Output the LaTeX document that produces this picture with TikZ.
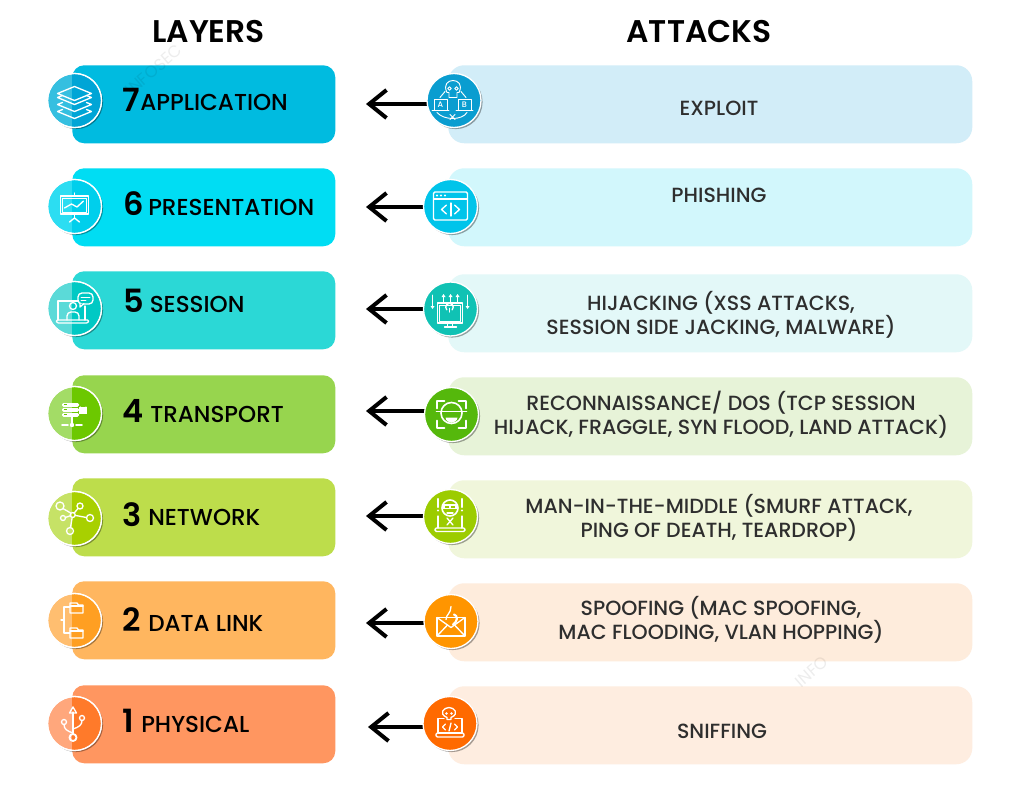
\documentclass[tikz,border=0pt]{standalone}
\usepackage{fontspec}
\setmainfont{Poppins}
\newfontfamily\medf{Poppins Medium}
\newfontfamily\semif{Poppins SemiBold}
\usetikzlibrary{arrows.meta,shadows}
\definecolor{la}{HTML}{00BBE0}\definecolor{lb}{HTML}{00DDF3}\definecolor{lc}{HTML}{2BD8D6}
\definecolor{ld}{HTML}{97D54E}\definecolor{le}{HTML}{BDDD4B}\definecolor{lf}{HTML}{FFB65F}\definecolor{lg}{HTML}{FF9660}
\definecolor{ca}{HTML}{00A5D6}\definecolor{cb}{HTML}{00CFEC}\definecolor{cc}{HTML}{00C9C4}
\definecolor{cd}{HTML}{6CC800}\definecolor{ce}{HTML}{A8D000}\definecolor{cf}{HTML}{FF9F22}\definecolor{cg}{HTML}{FF7A2A}
\definecolor{ta}{HTML}{35BFE0}\definecolor{tb}{HTML}{2CDDF2}\definecolor{tc}{HTML}{5BDAD8}
\definecolor{td}{HTML}{A3DC66}\definecolor{te}{HTML}{C6E266}\definecolor{tf}{HTML}{FFBE70}\definecolor{tg}{HTML}{FFA77C}
\definecolor{ra}{HTML}{D2EDF8}\definecolor{rb}{HTML}{D2F7FC}\definecolor{rc}{HTML}{E3F8F8}
\definecolor{rd}{HTML}{E7F3D8}\definecolor{re}{HTML}{F0F6DB}\definecolor{rf}{HTML}{FEECDC}\definecolor{rg}{HTML}{FEEDE0}
\definecolor{ia}{HTML}{0A9DD0}\definecolor{ib}{HTML}{00C4EA}\definecolor{ic}{HTML}{10C2B4}
\definecolor{id}{HTML}{55B80C}\definecolor{ie}{HTML}{9CCC00}\definecolor{if}{HTML}{FF9500}\definecolor{ig}{HTML}{FF6A00}
\definecolor{txt}{HTML}{2E2E2E}
\tikzset{
 x=0.75pt,y=-0.75pt,
 layerbox/.style={rectangle,rounded corners=9pt,minimum width=197.25pt,minimum height=58.5pt,inner sep=0pt,anchor=north west},
 attackbox/.style={rectangle,rounded corners=12pt,minimum width=393pt,minimum height=58.5pt,inner sep=0pt,anchor=north west},
 disc/.style={circle,minimum size=40.5pt,inner sep=0pt,draw=white,line width=1pt,drop shadow={shadow xshift=1.2pt,shadow yshift=-1.2pt,opacity=.35,fill=black}},
 layertxt/.style={anchor=west,inner sep=0pt,font=\medf\fontsize{17.3}{17.3}\selectfont,text=black},
 numtxt/.style={anchor=west,inner sep=0pt,font=\semif\fontsize{24}{24}\selectfont,text=black},
 attacktxt/.style={align=center,inner sep=0pt,font=\medf\fontsize{15.4}{18}\selectfont,text=txt},
 headtxt/.style={inner sep=0pt,font=\semif\fontsize{23.5}{23.5}\selectfont,text=black},
 back/.style={-{Straight Barb[length=13pt,width=21pt,line width=3pt]},line width=2.7pt,black},
 icn/.style={draw=white,line width=1pt,line cap=round,line join=round,fill=none},
 wmark/.style={inner sep=0pt,anchor=east,font=\fontsize{12.5}{12.5}\selectfont,text=black,text opacity=.07,rotate=41},
}
\newcommand{\leftdisc}[4]{%
 \node[disc,fill=#3] (#1) at (74.5,#2) {};
 \begin{scope}
  \clip (74.5,#2) circle (26.6);
  \fill[#4] (72,#2-30) rectangle (110,#2+30);
 \end{scope}
 \draw[white,line width=1pt] (74.5,#2) circle (27);
}
\newcommand{\icLayers}[2]{\begin{scope}[shift={(#1,#2)},icn]
 \draw (-17,-7) -- (0,-14) -- (17,-7) -- (0,0) -- cycle;
 \foreach \d in {0,7,14}{\draw (-12,\d-5) -- (-17,\d-7+4) -- (0,\d+4) -- (17,\d-7+4) -- (12,\d-5);}
\end{scope}}
\newcommand{\icBoard}[2]{\begin{scope}[shift={(#1,#2)},icn]
 \draw (-14,-10) rectangle (14,8);
 \draw[line width=.6pt] (-12,-8) rectangle (12,6);
 \draw (-10,2) -- (-3,-2) -- (2.5,1) -- (9,-5);
 \draw (0,-10) -- (0,-13); \draw (0,8) -- (0,12); \draw (-5,16) -- (0,12) -- (5,16);
\end{scope}}
\newcommand{\icSession}[2]{\begin{scope}[shift={(#1,#2)},icn]
 \draw (-15,11) -- (-15,-8) -- (5,-8); \draw (12,-3) -- (12,11);
 \draw[rounded corners=1pt] (-17,11) -- (16,11) -- (15,14) -- (-16,14) -- cycle;
 \draw (0,-3) circle (3.5);
 \draw[rounded corners=3pt] (-6,11) -- (-6,3) -- (6,3) -- (6,11);
 \draw[rounded corners=3pt,fill=cc] (5,-16) rectangle (20,-5);
 \draw[fill=cc] (7,-5.5) -- (7,-2) -- (11,-5.5);
 \draw[line width=.7pt] (8,-12) -- (17,-12); \draw[line width=.7pt] (8,-9) -- (13,-9);
\end{scope}}
\newcommand{\icServer}[2]{\begin{scope}[shift={(#1,#2)},icn,line width=.5pt]
 \foreach \d in {-9,-4,1}{\fill[white,rounded corners=1pt] (-10,\d) rectangle (7,\d+3.8);\fill[cd] (-8.5,\d+1.2) rectangle (-5,\d+2.4);}
 \draw[line width=.9pt] (8.5,-5) arc (180:0:2.7);
 \fill[white] (7,-5) rectangle (15,2);
 \draw[line width=1.2pt] (0,5) -- (0,13); \draw[line width=1.2pt] (-10,13) -- (-4,13); \draw[line width=1.2pt] (4,13) -- (10,13);
 \fill[white] (0,13) circle (2.2);
\end{scope}}
\newcommand{\icNet}[2]{\begin{scope}[shift={(#1,#2)},icn]
 \draw (0,0) circle (2.5); \draw (-12.7,-9) circle (4); \draw (7.3,-9) circle (3); \draw (17.3,3) circle (3.5);
 \draw (-9.7,3) circle (2.5); \draw (-2.7,16) circle (3.5);
 \draw (-2,-2) -- (-9.8,-6.5); \draw (1.5,-2) -- (5.5,-6.7); \draw (2.5,.4) -- (13.8,2.5);
 \draw (-2.5,.8) -- (-7.2,2.4); \draw (-.5,2.5) -- (-2.2,12.5);
\end{scope}}
\newcommand{\icFolders}[2]{\begin{scope}[shift={(#1,#2)},icn]
 \draw (-4,-13) -- (-10,-13) -- (-10,13) -- (-4,13); \draw (-10,0) -- (-13,0);
 \foreach \d in {-12,13}{\draw (-4,\d-5) -- (3,\d-5) -- (4.5,\d-3) -- (9,\d-3) -- (9,\d+5) -- (-4,\d+5) -- cycle; \draw (-4,\d-2) -- (9,\d-2);}
\end{scope}}
\newcommand{\icUsb}[2]{\begin{scope}[shift={(#1,#2)},icn]
 \draw (0,12) -- (0,-10); \draw (-3.5,-9) -- (0,-15) -- (3.5,-9) -- cycle;
 \draw[line width=1.4pt] (0,15.5) circle (3.5);
 \draw (0,11) .. controls (-6,9) and (-9,7) .. (-9,2.5); \draw (-9,0) circle (2.5);
 \draw (0,7) .. controls (6,5) and (9,3) .. (9,-1.5); \draw (9,-4) circle (2.5);
\end{scope}}
\newcommand{\icSkull}[2]{\begin{scope}[shift={(#1,#2)},icn,line width=.7pt]
 \draw (-6,-8) .. controls (-14,-24) and (14,-24) .. (6,-8) -- (4,-8) -- (4,-3) -- (-4,-3) -- (-4,-8) -- cycle;
 \draw (-3.5,-12) circle (1.8); \draw (3.5,-12) circle (1.8);
 \draw (-19,-1.5) rectangle (-6,9.5); \draw (5,-1.5) rectangle (18,9.5);
 \draw (-21,10) -- (-4,10); \draw (3,10) -- (20,10);
 \node[inner sep=0pt,text=white,font=\medf\fontsize{6}{6}\selectfont] (sa) at (-12.5,4) {A};
 \node[inner sep=0pt,text=white,font=\medf\fontsize{6}{6}\selectfont] (sb) at (11.5,4) {B};
 \draw (-16,12) .. controls (-9,20) and (9,20) .. (14,12);
 \draw (-3,14) -- (2,19); \draw (2,14) -- (-3,19);
 \draw (-13,-3) -- (-8,-9); \draw (13,-3) -- (8,-9);
\end{scope}}
\newcommand{\icCode}[2]{\begin{scope}[shift={(#1,#2)},icn]
 \draw[rounded corners=1pt] (-17,-14) rectangle (17,14); \draw (-17,-7) -- (17,-7);
 \foreach \d in {-13.5,-9.5,-5.5}{\fill[white] (\d,-10.5) circle (1.1);}
 \draw (-4,-1) -- (-9,3.5) -- (-4,8); \draw (4,-1) -- (9,3.5) -- (4,8); \draw (.5,-3) -- (.5,10);
\end{scope}}
\newcommand{\icMonitor}[2]{\begin{scope}[shift={(#1,#2)},icn]
 \draw (-13,-6) rectangle (12,14); \draw[line width=.6pt] (-11,-4) rectangle (10,12);
 \draw (-3,14) -- (-3,18); \draw (2,14) -- (2,18); \draw (-6,18) -- (6,18);
 \draw (-3.7,.8) arc (135:405:3.8);\draw (-1,-.5) -- (-1,3);
 \foreach \x in {-7,0,7}{\draw[line width=.7pt] (\x,-14) -- (\x,-7);\fill[white] (\x-2,-12) -- (\x+2,-12) -- (\x,-15) -- cycle;}
 \draw[line width=.6pt] (-18,-14) -- (-18,-2); \draw[line width=.6pt] (17,-14) -- (17,-2);
 \fill[white] (-20,-3) -- (-16,-3) -- (-18,0) -- cycle; \fill[white] (19,-3) -- (15,-3) -- (17,0) -- cycle;
\end{scope}}
\newcommand{\icFace}[2]{\begin{scope}[shift={(#1,#2)},icn,line width=1.4pt]
 \draw (-14.5,-6) -- (-14.5,-13.5) -- (-7,-13.5); \draw (7,-13.5) -- (14.5,-13.5) -- (14.5,-6);
 \draw (-14.5,6) -- (-14.5,13.5) -- (-7,13.5); \draw (7,13.5) -- (14.5,13.5) -- (14.5,6);
 \draw[line width=1.2pt] (0,-1.5) circle (10.5); \draw[line width=1.2pt] (-15,-3) -- (15,-3);
 \fill[white] (-6,3) .. controls (-5,10) and (5,10) .. (6,3) -- cycle;
\end{scope}}
\newcommand{\icMan}[2]{\begin{scope}[shift={(#1,#2)},icn]
 \draw[line width=1.2pt] (0,-8) circle (8); \fill[white] (-7,-12) rectangle (7,-7); \fill[ie] (-5,-10.5) rectangle (-1,-8.5); \fill[ie] (1,-10.5) rectangle (5,-8.5);
 \draw (-3,-3) -- (3,-3);
 \draw (-3,2) -- (3,9); \draw (3,2) -- (-3,9);
 \draw (-12,0) -- (-12,12); \draw (12,0) -- (12,12);
 \draw[line width=1.1pt,rounded corners=1pt] (-15,12) -- (15,12) -- (15,15.5) -- (-15,15.5) -- cycle;
 \draw[line width=1.8pt] (-12,-17) -- (-12,-9); \fill[white] (-12,-5.5) circle (1.2);
 \draw[line width=1.8pt] (12,-17) -- (12,-9); \fill[white] (12,-5.5) circle (1.2);
\end{scope}}
\newcommand{\icMail}[2]{\begin{scope}[shift={(#1,#2)},icn]
 \draw (-14,-4) rectangle (14,14.5); \draw (-14,-4) -- (0,6) -- (14,-4);
 \draw (-14,14.5) -- (-3.5,3.5); \draw (14,14.5) -- (3.5,3.5);
 \draw (0,-15) .. controls (0,-8) and (-5,-7) .. (-5,-2);
 \draw[line width=1.6pt] (3,-7) .. controls (7,-6) and (7,0) .. (2,3);
\end{scope}}
\newcommand{\icHack}[2]{\begin{scope}[shift={(#1,#2)},icn]
 \draw (-3,-4) -- (-3,-6) .. controls (-12,-10) and (-6,-16) .. (-1,-16) .. controls (4,-16) and (10,-10) .. (1,-6) -- (1,-4) -- cycle;
 \fill[white] (-3.5,-10) circle (1.4); \fill[white] (1.5,-10) circle (1.4);
 \draw (-6,-5) -- (-12,-5) -- (-12,9.5) -- (12,9.5) -- (12,-5) -- (5,-5);
 \draw[line width=1.1pt,rounded corners=1pt] (-14,9.5) -- (14,9.5) -- (14,13.5) -- (-14,13.5) -- cycle;
 \draw (-4.5,.5) -- (-7.5,3.5) -- (-4.5,6.5); \draw (4.5,.5) -- (7.5,3.5) -- (4.5,6.5); \draw (1,-.5) -- (-1,7.5);
\end{scope}}
\begin{document}
\begin{tikzpicture}
\useasboundingbox (0,0) rectangle (1015,803);
\fill[white] (0,0) rectangle (1015,803);
\node[headtxt] (hl) at (208.5,32) {LAYERS};
\node[headtxt] (hr) at (699,32) {ATTACKS};
% layer boxes
\node[layerbox,fill=la] (l7) at (72,65) {};
\node[layerbox,fill=lb] (l6) at (72,168) {};
\node[layerbox,fill=lc] (l5) at (72,271) {};
\node[layerbox,fill=ld] (l4) at (72,375) {};
\node[layerbox,fill=le] (l3) at (72,478) {};
\node[layerbox,fill=lf] (l2) at (72,581) {};
\node[layerbox,fill=lg] (l1) at (72,685) {};
% attack boxes
\node[attackbox,fill=ra] (a7) at (448,65) {};
\node[attackbox,fill=rb] (a6) at (448,168) {};
\node[attackbox,fill=rc] (a5) at (448,274) {};
\node[attackbox,fill=rd] (a4) at (448,377) {};
\node[attackbox,fill=re] (a3) at (448,480) {};
\node[attackbox,fill=rf] (a2) at (448,583) {};
\node[attackbox,fill=rg] (a1) at (448,686) {};
% faint watermark
\node[wmark] (wm1) at (180,47) {INFOSEC};
\node[wmark] (wm2) at (826,659) {INFO};
% left discs
\leftdisc{d7}{100.5}{ta}{ca}\icLayers{74.5}{100.5}
\leftdisc{d6}{206.5}{tb}{cb}\icBoard{74.5}{206}
\leftdisc{d5}{308.5}{tc}{cc}\icSession{73}{309}
\leftdisc{d4}{413.5}{td}{cd}\icServer{72}{412}
\leftdisc{d3}{518.5}{te}{ce}\icNet{72.7}{515}
\leftdisc{d2}{620.5}{tf}{cf}\icFolders{74}{620}
\leftdisc{d1}{723.5}{tg}{cg}\icUsb{73}{722}
% layer text
\node[numtxt] (n7) at (122,100) {7};\node[layertxt] (t7) at (140,102) {APPLICATION};
\node[numtxt] (n6) at (123,204) {6};\node[layertxt] (t6) at (148,207) {PRESENTATION};
\node[numtxt] (n5) at (123,301) {5};\node[layertxt] (t5) at (149.5,304) {SESSION};
\node[numtxt] (n4) at (122.5,411) {4};\node[layertxt] (t4) at (150,414.5) {TRANSPORT};
\node[numtxt] (n3) at (122,515) {3};\node[layertxt] (t3) at (148,517.5) {NETWORK};
\node[numtxt] (n2) at (122,620) {2};\node[layertxt] (t2) at (148,623.5) {DATA LINK};
\node[numtxt] (n1) at (122,721) {1};\node[layertxt] (t1) at (141,724) {PHYSICAL};
% arrow tips
\coordinate (e7) at (366,104);
\coordinate (e6) at (366,207);
\coordinate (e5) at (366,309);
\coordinate (e4) at (366,411);
\coordinate (e3) at (366,516);
\coordinate (e2) at (366,623);
\coordinate (e1) at (368,727);
% arrows
\draw[back] (a7.west |- e7) -- (e7);
\draw[back] (a6.west |- e6) -- (e6);
\draw[back] (a5.west |- e5) -- (e5);
\draw[back] (a4.west |- e4) -- (e4);
\draw[back] (a3.west |- e3) -- (e3);
\draw[back] (a2.west |- e2) -- (e2);
\draw[back] (a1.west |- e1) -- (e1);
% right discs
\node[disc,fill=ia] (c7) at (454,100.5) {};
\node[disc,fill=ib] (c6) at (450.5,206.5) {};
\node[disc,fill=ic] (c5) at (450.5,309) {};
\node[disc,fill=id] (c4) at (451.5,414.5) {};
\node[disc,fill=ie] (c3) at (450.5,516.5) {};
\node[disc,fill=if] (c2) at (451,621.5) {};
\node[disc,fill=ig] (c1) at (450,723.5) {};
\icSkull{453}{100.5}\icCode{450.5}{206}\icMonitor{450.5}{309}\icFace{451.5}{414.5}\icMan{450}{516}\icMail{451}{621.5}\icHack{450}{723.5}
% attack text
\node[attacktxt] (x7) at (719,108) {EXPLOIT};
\node[attacktxt] (x6) at (719,195) {PHISHING};
\node[attacktxt] (x5) at (721,315) {HIJACKING (XSS ATTACKS,\\SESSION SIDE JACKING, MALWARE)};
\node[attacktxt] (x4) at (721,415) {RECONNAISSANCE/ DOS (TCP SESSION\\HIJACK, FRAGGLE, SYN FLOOD, LAND ATTACK)};
\node[attacktxt] (x3) at (719,518) {MAN-IN-THE-MIDDLE (SMURF ATTACK,\\PING OF DEATH, TEARDROP)};
\node[attacktxt] (x2) at (721,620) {SPOOFING (MAC SPOOFING,\\MAC FLOODING, VLAN HOPPING)};
\node[attacktxt] (x1) at (722,731) {SNIFFING};
\end{tikzpicture}
\end{document}
